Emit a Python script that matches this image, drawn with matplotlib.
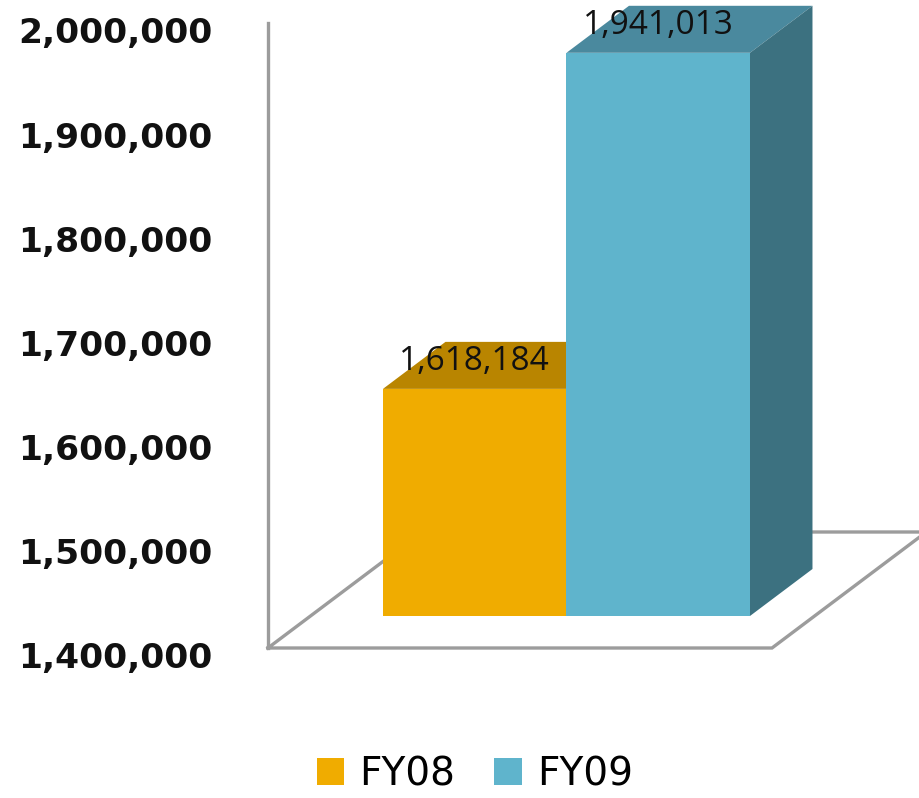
import matplotlib
matplotlib.use('Agg')
import matplotlib.pyplot as plt
from matplotlib.patches import Polygon, Patch
from matplotlib.ticker import FuncFormatter

######################## - DATA - #############################
CATEGORIES = ['FY08', 'FY09']
VALUES = [1618184, 1941013]
FRONT_COLORS = ['#F0AC00', '#5FB4CC']
TOP_COLORS = ['#B98500', '#4A899E']
SIDE_COLORS = ['#8C6600', '#3C7180']
Y_TICKS = [1400000, 1500000, 1600000, 1700000, 1800000, 1900000, 2000000]
BASE = 1400000

######################## - LAYOUT - ###########################
W, H, DPI = 919, 798, 100
PX_PER_VAL = 1.041e-3       # vertical pixels per unit value
PX_PER_CAT = 183.5          # horizontal pixels per category
SLANT = 1.33                # x pixels per depth pixel
X0_PX = 422.85              # pixel x of category 0 at depth 0
Y0_PX = 655                 # pixel y of BASE at depth 0
AX_LEFT_PX, AX_TOP_PX, AX_BOT_PX = 268, 0, 700

Z_FLOOR_FRONT = 7
Z_BAR_FRONT = 39
Z_BAR_BACK = 86
Z_FLOOR_BACK = 123
FLOOR_X = (-0.895, 1.852)


def proj(u, v, z):
    """ oblique projection: depth z (pixels) moves points right and up """
    return u + z * SLANT / PX_PER_CAT, v + z / PX_PER_VAL


def px_to_val(y):
    return BASE + (Y0_PX - y) / PX_PER_VAL


def px_to_cat(x):
    return (x - X0_PX) / PX_PER_CAT


def main():
    fig = plt.figure(figsize=(W / DPI, H / DPI), dpi=DPI)
    ax = fig.add_axes([AX_LEFT_PX / W, (H - AX_BOT_PX) / H,
                       (W - AX_LEFT_PX) / W, (AX_BOT_PX - AX_TOP_PX) / H])
    ax.set_xlim(px_to_cat(AX_LEFT_PX), px_to_cat(W))
    ax.set_ylim(px_to_val(AX_BOT_PX), px_to_val(AX_TOP_PX))
    for s in ax.spines.values():
        s.set_visible(False)
    ax.set_xticks([])
    ax.set_yticks(Y_TICKS)
    ax.yaxis.set_major_formatter(FuncFormatter(lambda v, p: f'{int(v):,}'))
    ax.tick_params(axis='y', length=0, pad=40, labelsize=24.8)
    for lab in ax.get_yticklabels():
        lab.set_fontweight('bold')
        lab.set_family('DejaVu Sans')
        lab.set_color('#111111')

    # floor and wall lines
    fl, fr = FLOOR_X
    floor = [proj(fl, BASE, Z_FLOOR_FRONT), proj(fr, BASE, Z_FLOOR_FRONT),
             proj(fr, BASE, Z_FLOOR_BACK), proj(fl, BASE, Z_FLOOR_BACK),
             proj(fl, BASE, Z_FLOOR_FRONT)]
    ax.plot([p[0] for p in floor], [p[1] for p in floor], color='#9C9C9C',
            lw=2.4, zorder=1, solid_joinstyle='miter', clip_on=False)
    axis_line = [proj(fl, BASE, Z_FLOOR_FRONT), proj(fl, Y_TICKS[-1], Z_FLOOR_FRONT)]
    ax.plot([p[0] for p in axis_line], [p[1] for p in axis_line], color='#9C9C9C',
            lw=2.4, zorder=1, clip_on=False)

    # 3d bars
    for i, (val, fc, tc, sc) in enumerate(zip(VALUES, FRONT_COLORS, TOP_COLORS, SIDE_COLORS)):
        l, r = i - 0.5, i + 0.5
        top = Polygon([proj(l, val, Z_BAR_FRONT), proj(r, val, Z_BAR_FRONT),
                       proj(r, val, Z_BAR_BACK), proj(l, val, Z_BAR_BACK)],
                      closed=True, facecolor=tc, edgecolor='none', zorder=2 + i * 3)
        side = Polygon([proj(r, BASE, Z_BAR_FRONT), proj(r, BASE, Z_BAR_BACK),
                        proj(r, val, Z_BAR_BACK), proj(r, val, Z_BAR_FRONT)],
                       closed=True, facecolor=sc, edgecolor='none', zorder=2 + i * 3)
        ax.add_patch(top)
        ax.add_patch(side)
        bx, bb = proj(i, BASE, Z_BAR_FRONT)
        ax.bar(bx, val - BASE, bottom=bb, width=1.0, color=fc, linewidth=0,
               zorder=3 + i * 3)
        ax.annotate(f'{val:,}', xy=(bx, bb + val - BASE), xytext=(0, 20),
                    textcoords='offset points', ha='center', va='center',
                    fontsize=24, family='Open Sans', color='#111111', zorder=10)

    handles = [Patch(facecolor=c, edgecolor='none') for c in FRONT_COLORS]
    fig.legend(handles, CATEGORIES, loc='center', bbox_to_anchor=(475 / W, 1 - 774 / H),
               ncol=2, frameon=False, fontsize=28, handlelength=0.7, handleheight=0.7,
               handletextpad=0.4, columnspacing=1.0)

    fig.savefig('out.png', dpi=DPI)


if __name__ == "__main__":
    main()
